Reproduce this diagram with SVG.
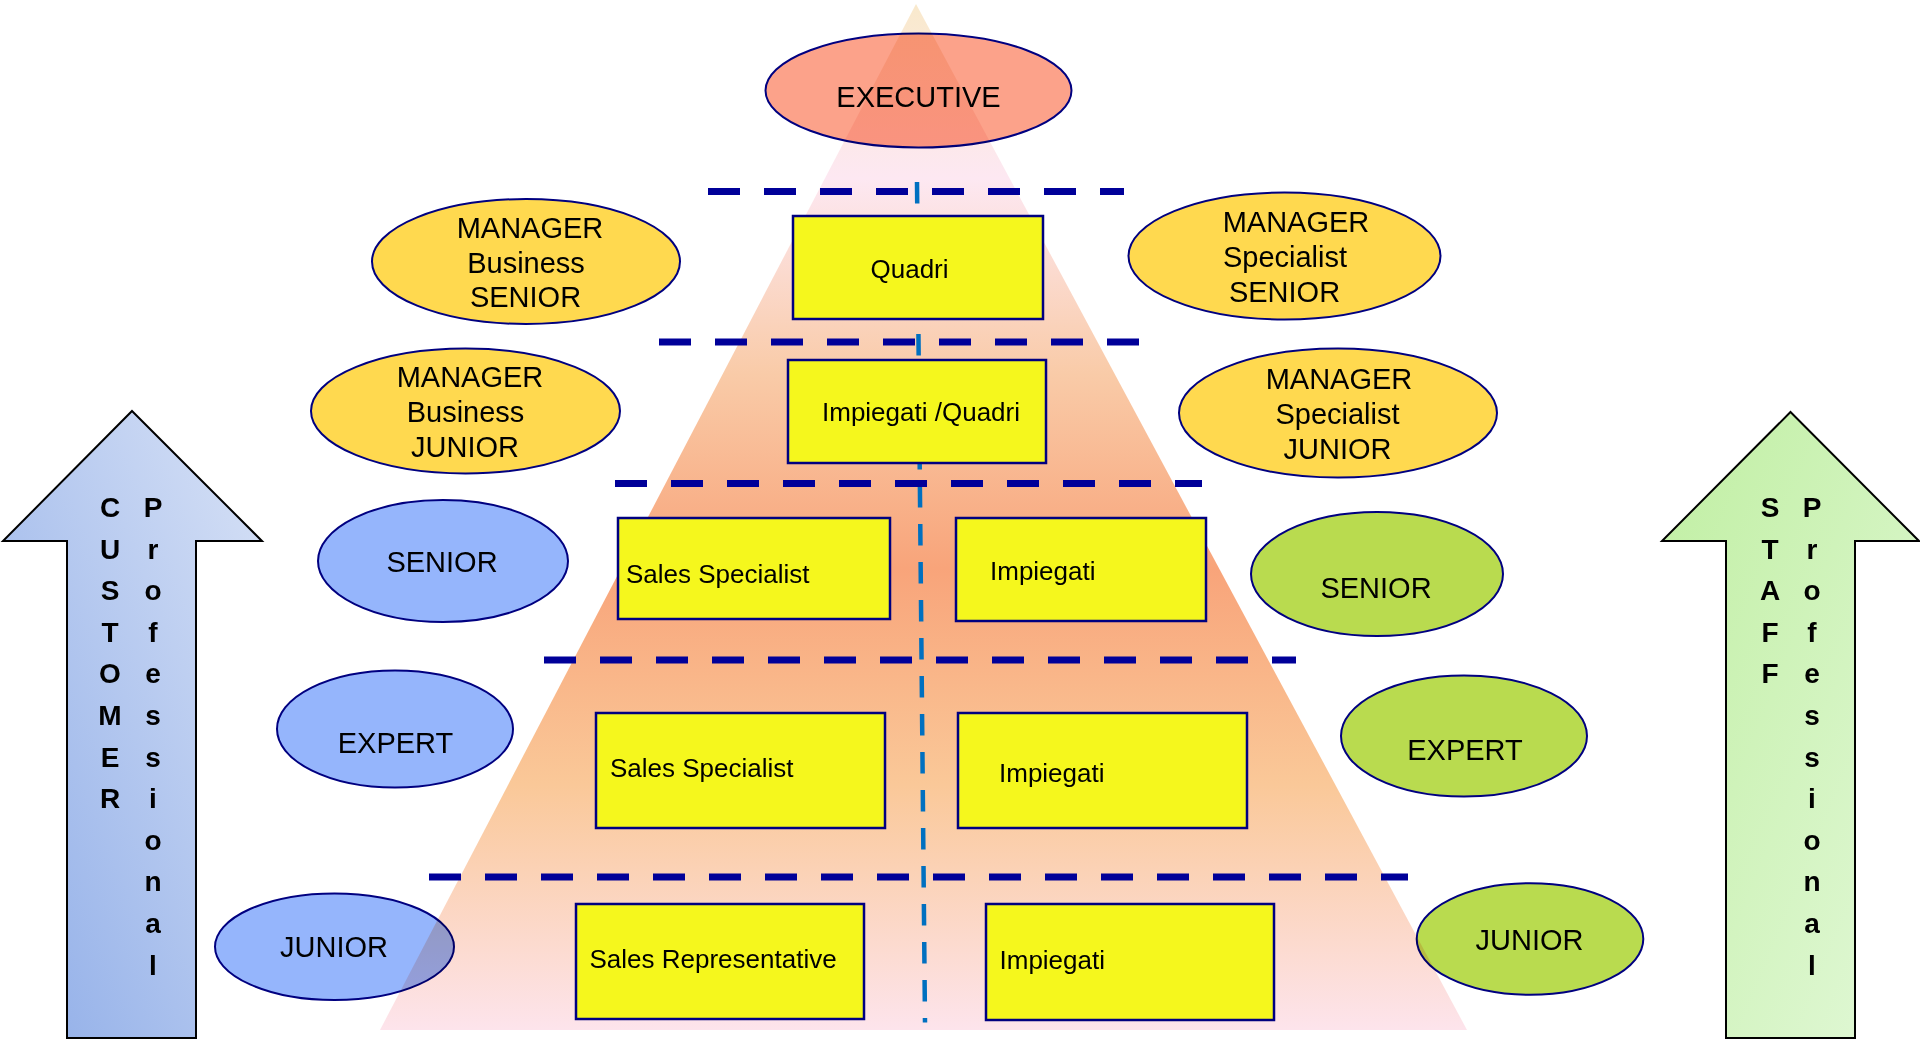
<svg xmlns="http://www.w3.org/2000/svg" width="1920" height="1040" viewBox="0 0 1920 1040">
  <style>
    .t { font-family: "Liberation Sans", Arial, sans-serif; fill: #000; }
    .el { font-size: 29px; text-anchor: middle; }
    .bx { font-size: 26px; }
    .ar { font-size: 28px; font-weight: bold; text-anchor: middle; }
    .box { fill: #F5F71D; stroke: #000080; stroke-width: 2.5; }
    .ell { stroke: #000080; stroke-width: 2; }
    .exec { fill: #FCA28A; }
    .yel { fill: #FFD94F; }
    .blue { fill: #95B5FC; }
    .green { fill: #B9DB4F; }
    .sep { stroke: #000099; stroke-width: 7; stroke-dasharray: 32 24; fill: none; }
    .axis { stroke: #0070C0; stroke-width: 4.5; stroke-dasharray: 21.5 16.5; fill: none; }
    .arrow { stroke: #000; stroke-width: 2; }
  </style>
  <defs>
    <linearGradient id="pyrGrad" gradientUnits="userSpaceOnUse" x1="0" y1="4" x2="0" y2="1030">
      <stop offset="0" stop-color="#F9E9CC"/>
      <stop offset="0.17" stop-color="#FDE8F2"/>
      <stop offset="0.36" stop-color="#F9CBA8"/>
      <stop offset="0.55" stop-color="#F8A47A"/>
      <stop offset="0.76" stop-color="#FAC898"/>
      <stop offset="1" stop-color="#FDE4EC"/>
    </linearGradient>
    <linearGradient id="blueGrad" x1="0" y1="1" x2="1" y2="0">
      <stop offset="0" stop-color="#8FADE8"/>
      <stop offset="1" stop-color="#D8E2F6"/>
    </linearGradient>
    <linearGradient id="greenGrad" x1="0" y1="0" x2="1" y2="1">
      <stop offset="0" stop-color="#C0EFA2"/>
      <stop offset="1" stop-color="#E2F8D8"/>
    </linearGradient>
  </defs>

  <rect x="0" y="0" width="1920" height="1040" fill="#FFFFFF"/>

  <!-- side arrows -->
  <g id="arrow-customer">
    <polygon class="arrow" fill="url(#blueGrad)" points="132,411 262,541 196,541 196,1038 67,1038 67,541 3,541"/>
    <text class="t ar"><tspan x="110" y="517">C</tspan><tspan x="110" y="558.6">U</tspan><tspan x="110" y="600.2">S</tspan><tspan x="110" y="641.8">T</tspan><tspan x="110" y="683.4">O</tspan><tspan x="110" y="725">M</tspan><tspan x="110" y="766.6">E</tspan><tspan x="110" y="808.2">R</tspan></text>
    <text class="t ar"><tspan x="153" y="517">P</tspan><tspan x="153" y="558.6">r</tspan><tspan x="153" y="600.2">o</tspan><tspan x="153" y="641.8">f</tspan><tspan x="153" y="683.4">e</tspan><tspan x="153" y="725">s</tspan><tspan x="153" y="766.6">s</tspan><tspan x="153" y="808.2">i</tspan><tspan x="153" y="849.8">o</tspan><tspan x="153" y="891.4">n</tspan><tspan x="153" y="933">a</tspan><tspan x="153" y="974.6">l</tspan></text>
  </g>
  <g id="arrow-staff">
    <polygon class="arrow" fill="url(#greenGrad)" points="1790.5,412 1919,541 1855,541 1855,1038 1726,1038 1726,541 1662,541"/>
    <text class="t ar"><tspan x="1770" y="517">S</tspan><tspan x="1770" y="558.6">T</tspan><tspan x="1770" y="600.2">A</tspan><tspan x="1770" y="641.8">F</tspan><tspan x="1770" y="683.4">F</tspan></text>
    <text class="t ar"><tspan x="1812" y="517">P</tspan><tspan x="1812" y="558.6">r</tspan><tspan x="1812" y="600.2">o</tspan><tspan x="1812" y="641.8">f</tspan><tspan x="1812" y="683.4">e</tspan><tspan x="1812" y="725">s</tspan><tspan x="1812" y="766.6">s</tspan><tspan x="1812" y="808.2">i</tspan><tspan x="1812" y="849.8">o</tspan><tspan x="1812" y="891.4">n</tspan><tspan x="1812" y="933">a</tspan><tspan x="1812" y="974.6">l</tspan></text>
  </g>

  <!-- ellipse nodes -->
  <g id="executive">
    <ellipse class="ell exec" cx="918.5" cy="90.5" rx="153" ry="57"/>
    <text class="t el" x="918.5" y="107">EXECUTIVE</text>
  </g>
  <g id="manager-business-senior">
    <ellipse class="ell yel" cx="526" cy="261.5" rx="154" ry="62.5"/>
    <text class="t el"><tspan x="530" y="238">MANAGER</tspan><tspan x="526" y="273">Business</tspan><tspan x="525.5" y="307">SENIOR</tspan></text>
  </g>
  <g id="manager-business-junior">
    <ellipse class="ell yel" cx="465.5" cy="411" rx="154.5" ry="62.5"/>
    <text class="t el"><tspan x="470" y="387">MANAGER</tspan><tspan x="465.5" y="422">Business</tspan><tspan x="465" y="456.7">JUNIOR</tspan></text>
  </g>
  <g id="manager-specialist-senior">
    <ellipse class="ell yel" cx="1284.5" cy="256" rx="156" ry="63.5"/>
    <text class="t el"><tspan x="1296" y="231.7">MANAGER</tspan><tspan x="1285" y="266.5">Specialist</tspan><tspan x="1284.5" y="301.7">SENIOR</tspan></text>
  </g>
  <g id="manager-specialist-junior">
    <ellipse class="ell yel" cx="1338" cy="413" rx="159" ry="64.5"/>
    <text class="t el"><tspan x="1339" y="389.3">MANAGER</tspan><tspan x="1337.5" y="424">Specialist</tspan><tspan x="1337.5" y="459">JUNIOR</tspan></text>
  </g>
  <g id="customer-senior">
    <ellipse class="ell blue" cx="443" cy="561" rx="125" ry="61"/>
    <text class="t el" x="442" y="572">SENIOR</text>
  </g>
  <g id="customer-expert">
    <ellipse class="ell blue" cx="395" cy="729" rx="118" ry="58.5"/>
    <text class="t el" x="395.5" y="752.7">EXPERT</text>
  </g>
  <g id="customer-junior">
    <ellipse class="ell blue" cx="334.5" cy="946.7" rx="119.5" ry="53.3"/>
    <text class="t el" x="334" y="957.3">JUNIOR</text>
  </g>
  <g id="staff-senior">
    <ellipse class="ell green" cx="1377" cy="574" rx="126" ry="62"/>
    <text class="t el" x="1376" y="598">SENIOR</text>
  </g>
  <g id="staff-expert">
    <ellipse class="ell green" cx="1464" cy="736" rx="123" ry="60.5"/>
    <text class="t el" x="1465" y="760">EXPERT</text>
  </g>
  <g id="staff-junior">
    <ellipse class="ell green" cx="1530" cy="939" rx="113.3" ry="55.8"/>
    <text class="t el" x="1529.5" y="950">JUNIOR</text>
  </g>

  <!-- pyramid (multiplied over the ellipses) -->
  <g id="pyramid">
    <polygon points="916,4 1467,1030 380,1030" fill="url(#pyrGrad)" style="mix-blend-mode:multiply"/>
  </g>

  <!-- connectors: level separators and central axis -->
  <g id="connectors">
    <line class="axis" x1="917" y1="182" x2="925" y2="1022.5"/>
    <line class="sep" x1="708" y1="191.5" x2="1124" y2="191.5"/>
    <line class="sep" x1="659" y1="342" x2="1140" y2="342"/>
    <line class="sep" x1="615" y1="483.5" x2="1202" y2="483.5"/>
    <line class="sep" x1="544" y1="660" x2="1296" y2="660"/>
    <line class="sep" x1="429" y1="877" x2="1408" y2="877"/>
  </g>

  <!-- box nodes -->
  <g id="quadri">
    <rect class="box" x="793" y="216" width="250" height="103"/>
    <text class="t bx" x="870.5" y="278">Quadri</text>
  </g>
  <g id="impiegati-quadri">
    <rect class="box" x="788" y="360" width="258" height="103"/>
    <text class="t bx" x="822" y="421">Impiegati /Quadri</text>
  </g>
  <g id="sales-specialist-senior">
    <rect class="box" x="618" y="518" width="272" height="101"/>
    <text class="t bx" x="626" y="583">Sales Specialist</text>
  </g>
  <g id="impiegati-senior">
    <rect class="box" x="956" y="518" width="250" height="103"/>
    <text class="t bx" x="990" y="580">Impiegati</text>
  </g>
  <g id="sales-specialist-expert">
    <rect class="box" x="596" y="713" width="289" height="115"/>
    <text class="t bx" x="610" y="777">Sales Specialist</text>
  </g>
  <g id="impiegati-expert">
    <rect class="box" x="958" y="713" width="289" height="115"/>
    <text class="t bx" x="999" y="782">Impiegati</text>
  </g>
  <g id="sales-representative">
    <rect class="box" x="576" y="904" width="288" height="115"/>
    <text class="t bx" x="589.5" y="968">Sales Representative</text>
  </g>
  <g id="impiegati-junior">
    <rect class="box" x="986" y="904" width="288" height="116"/>
    <text class="t bx" x="999.5" y="969">Impiegati</text>
  </g>
</svg>
